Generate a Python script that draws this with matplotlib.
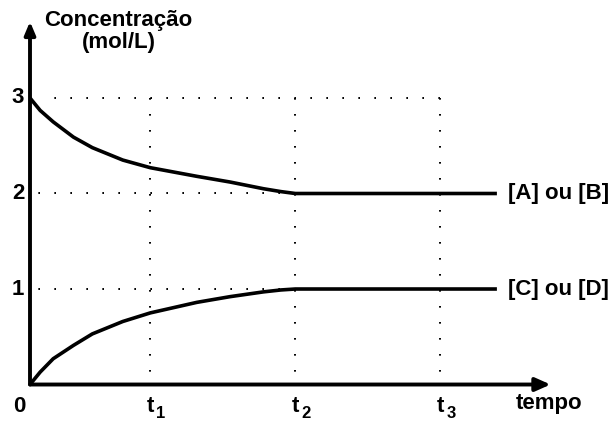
import matplotlib
matplotlib.use("Agg")
import matplotlib.pyplot as plt

# values (time in arbitrary units, t1..t3 equally spaced)
TIME = [0, 0.07, 0.16, 0.30, 0.43, 0.64, 0.83, 1.15, 1.38, 1.61, 1.73, 1.83, 3.22]
REAGENTS = [3.0, 2.87, 2.75, 2.59, 2.48, 2.35, 2.27, 2.18, 2.12, 2.05, 2.02, 2.0, 2.0]
PRODUCTS = [0.0, 0.13, 0.27, 0.41, 0.53, 0.66, 0.75, 0.86, 0.92, 0.97, 0.99, 1.0, 1.0]
SERIES_LABELS = ["[A] ou [B]", "[C] ou [D]"]
T_TICKS = [0.83, 1.83, 2.83]
T_SUBS = ["1", "2", "3"]
Y_TICKS = [1, 2, 3]

plt.rcParams["font.family"] = ["Liberation Sans", "DejaVu Sans"]
plt.rcParams["font.weight"] = "bold"
plt.rcParams["lines.scale_dashes"] = False

fig = plt.figure(figsize=(6.16, 4.21), dpi=100)
ax = fig.add_axes([0, 0, 1, 1])
ax.set_xlim(-0.2069, 4.0414)
ax.set_ylim(-0.382, 4.026)
ax.axis("off")

FS = 16
X_END, Y_END = 3.59, 3.80

# dotted guide lines
dots = dict(color="k", lw=1.4, linestyle=(0, (1.2, 10.32)), solid_capstyle="butt")
ax.plot([T_TICKS[-1], 0.15], [3, 3], **dots)
for y in Y_TICKS[:2]:
    ax.plot([T_TICKS[-1], 0.04], [y, y], **dots)
for t in T_TICKS:
    ax.plot([t, t], [3, 0.05], **dots)

# curves
for vals, lab in zip([REAGENTS, PRODUCTS], SERIES_LABELS):
    ax.plot(TIME, vals, color="k", lw=2.6, solid_capstyle="butt",
            solid_joinstyle="round")
    ax.text(TIME[-1] + 0.075, vals[-1], lab, fontsize=FS, ha="left", va="center")

# axes with arrows
ax.annotate("", xy=(X_END, 0), xytext=(0, 0),
            arrowprops=dict(arrowstyle="-|>,head_length=0.45,head_width=0.2",
                            lw=2.8, color="k", shrinkA=0, shrinkB=0,
                            mutation_scale=20))
ax.annotate("", xy=(0, Y_END), xytext=(0, 0),
            arrowprops=dict(arrowstyle="-|>,head_length=0.38,head_width=0.16",
                            lw=2.8, color="k", shrinkA=0, shrinkB=0,
                            mutation_scale=20))

# tick labels
for y in Y_TICKS:
    ax.text(-0.04, y, str(y), fontsize=FS, ha="right", va="center")
ax.text(-0.075, -0.288, "0", fontsize=FS, ha="center", va="baseline")
for t, sub in zip(T_TICKS, T_SUBS):
    ax.text(t - 0.025, -0.288, "t", fontsize=FS, ha="left", va="baseline")
    ax.text(t + 0.04, -0.351, sub, fontsize=12, ha="left", va="baseline")
ax.text(X_END - 0.01, -0.2, "tempo", fontsize=FS, ha="center", va="center")

# axis title
ax.text(0.61, 3.75, "Concentração", fontsize=FS, ha="center", va="baseline")
ax.text(0.61, 3.52, "(mol/L)", fontsize=FS, ha="center", va="baseline")

fig.savefig("out.png", dpi=100)
